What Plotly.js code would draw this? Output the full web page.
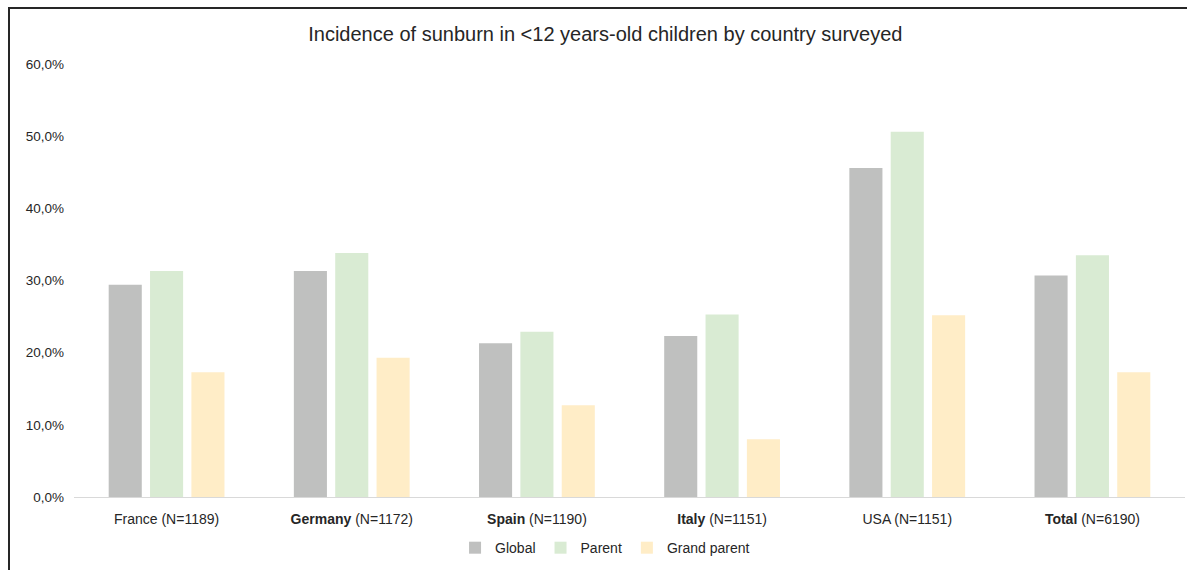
<!DOCTYPE html>
<html>
<head>
<meta charset="utf-8">
<script src="https://cdn.plot.ly/plotly-3.0.1.min.js"></script>
<style>
  html, body { margin: 0; padding: 0; background: #fff; overflow: hidden; }
  #chart { width: 1187px; height: 570px; position: absolute; left: 0; top: 0; }
  #frame { position: absolute; left: 8px; top: 7px; width: 1200px; height: 600px;
           border: 2px solid #262626; box-sizing: border-box; pointer-events: none; }
</style>
</head>
<body>
<div id="chart"></div>
<div id="frame"></div>
<script>
const categories = [
  "France (N=1189)",
  "<b>Germany</b> (N=1172)",
  "<b>Spain</b> (N=1190)",
  "<b>Italy</b> (N=1151)",
  "USA (N=1151)",
  "<b>Total</b> (N=6190)"
];
const globalVals = [0.294, 0.313, 0.213, 0.223, 0.456, 0.307];
const parentVals = [0.313, 0.338, 0.229, 0.253, 0.506, 0.335];
const grandVals  = [0.173, 0.193, 0.127, 0.080, 0.252, 0.173];
const tickVals   = [0, 0.1, 0.2, 0.3, 0.4, 0.5, 0.6];
const tickText   = ["0,0%", "10,0%", "20,0%", "30,0%", "40,0%", "50,0%", "60,0%"];

const font = "Liberation Sans, Arial, sans-serif";

const traces = [
  { type: "bar", name: "Global", x: categories, y: globalVals, marker: { color: "#BFC0BF" } },
  { type: "bar", name: "Parent", x: categories, y: parentVals, marker: { color: "#D9EBD3" } },
  { type: "bar", name: "Grand parent", x: categories, y: grandVals, marker: { color: "#FFEDC7" } }
];

const layout = {
  width: 1187, height: 570,
  margin: { l: 74, r: 2, t: 64, b: 73 },
  paper_bgcolor: "#fff", plot_bgcolor: "#fff",
  font: { family: font, size: 13, color: "#262626" },
  barmode: "group",
  bargap: 0.33,
  bargroupgap: 0.2,
  hovermode: false,
  title: {
    text: "Incidence of sunburn in <12 years-old children by country surveyed",
    font: { family: font, size: 20, color: "#262626" },
    x: 0.51, xanchor: "center",
    yref: "container", y: 1 - 34 / 570, yanchor: "middle"
  },
  xaxis: {
    type: "category",
    showgrid: false, zeroline: false,
    showline: true, linecolor: "#D9D9D9", linewidth: 1,
    ticks: "", ticklabelstandoff: 9,
    tickfont: { family: font, size: 14, color: "#262626" }
  },
  yaxis: {
    range: [0, 0.6],
    tickvals: tickVals, ticktext: tickText,
    showgrid: false, zeroline: false, showline: false,
    ticks: "", ticklabelstandoff: 9,
    tickfont: { family: font, size: 13.5, color: "#262626" }
  },
  legend: {
    orientation: "h",
    x: 0.478, xanchor: "center",
    y: -0.118, yanchor: "middle",
    font: { family: font, size: 14, color: "#262626" },
    itemwidth: 30,
    traceorder: "normal"
  },
  showlegend: true
};

Plotly.newPlot("chart", traces, layout, { displayModeBar: false, staticPlot: true });
</script>
</body>
</html>
